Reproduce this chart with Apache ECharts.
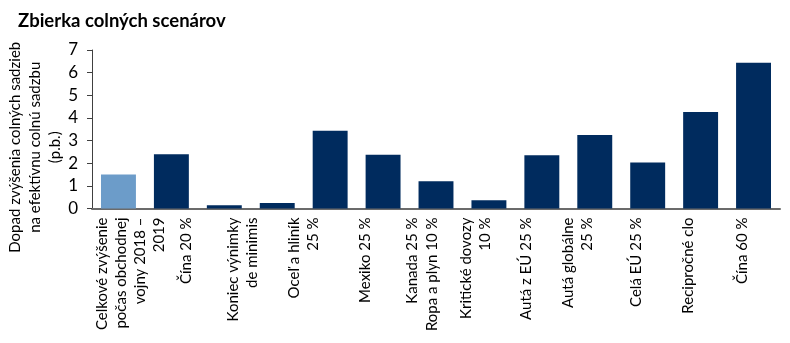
<!DOCTYPE html>
<html>
<head>
<meta charset="utf-8">
<script src="https://cdn.jsdelivr.net/npm/echarts@6/dist/echarts.min.js"></script>
<style>
  html, body { margin: 0; padding: 0; background: #fff; }
  #chart { width: 790px; height: 343px; }
</style>
</head>
<body>
<div id="chart"></div>
<script>
// Tariff scenarios and their impact on the effective tariff rate (p.b.)
const categories = [
  'Celkové zvýšenie\npočas obchodnej\nvojny 2018 –\n2019',
  'Čína 20 %',
  'Koniec výnimky\nde minimis',
  'Oceľ a hliník\n25 %',
  'Mexiko 25 %',
  'Kanada 25 %',
  'Ropa a plyn 10 %',
  'Kritické dovozy\n10 %',
  'Autá z EÚ 25 %',
  'Autá globálne\n25 %',
  'Celá EÚ 25 %',
  'Recipročné clo',
  'Čína 60 %'
];
const impactValues = [1.5, 2.4, 0.14, 0.24, 3.43, 2.37, 1.2, 0.36, 2.35, 3.25, 2.03, 4.26, 6.44];
const yTicks = [0, 1, 2, 3, 4, 5, 6, 7];

// horizontal nudge (px) of each category label relative to its bar
const labelShift = [12, 15, 18, 26, 35, 29, -4, -13, -16, -17, -12, -12, -11];

const FONT = 'Lato, "Open Sans", sans-serif';
const DARK = '#002B5E';
const LIGHT = '#6C9CC9';

// rotated labels: an invisible spacer line before/after the text moves the block sideways
const labelRich = {
  t: { fontFamily: FONT, fontSize: 15, lineHeight: 19, color: '#000' }
};
labelShift.forEach((d, i) => {
  const h = Math.max(1, Math.abs(2 * d));
  labelRich['gap' + i] = { fontSize: 1, height: h, lineHeight: h, color: 'rgba(0,0,0,0)' };
});
function categoryLabel(value, index) {
  const d = labelShift[index];
  const lines = String(value).split('\n').map(l => '{t|' + l + '}').join('\n');
  if (d > 0) return '{gap' + index + '| }\n' + lines;
  if (d < 0) return lines + '\n{gap' + index + '| }';
  return lines;
}

const chart = echarts.init(document.getElementById('chart'), null, { renderer: 'canvas' });
chart.setOption({
  animation: false,
  backgroundColor: '#fff',
  title: {
    text: 'Zbierka colných scenárov',
    left: 13, top: 7,
    textStyle: { fontFamily: FONT, fontSize: 18.5, fontWeight: 'bold', color: '#000' }
  },
  grid: { left: 92, right: 10, top: 50, bottom: 134.5, containLabel: false, outerBoundsMode: 'none' },
  xAxis: {
    type: 'category',
    data: categories,
    axisLine: { show: true, lineStyle: { color: '#6b6b6b', width: 2 } },
    axisTick: { show: false },
    axisLabel: {
      interval: 0,
      rotate: 90,
      margin: 9,
      align: 'right',
      verticalAlign: 'middle',
      fontFamily: FONT,
      fontSize: 15,
      lineHeight: 19,
      color: '#000',
      hideOverlap: false,
      formatter: categoryLabel,
      rich: labelRich
    },
    splitLine: { show: false }
  },
  yAxis: {
    type: 'value',
    min: yTicks[0],
    max: yTicks[yTicks.length - 1],
    interval: 1,
    name: 'Dopad zvýšenia colných sadzieb\nna efektívnu colnú sadzbu\n(p.b.)',
    nameLocation: 'middle',
    nameGap: 27,
    nameMoveOverlap: false,
    nameTextStyle: {
      fontFamily: FONT, fontSize: 15, lineHeight: 20, color: '#000',
      align: 'center', padding: [0, 36, 0, 0]
    },
    axisLine: { show: true, lineStyle: { color: '#404040', width: 1 } },
    axisTick: { show: true, inside: false, length: 5, lineStyle: { color: '#404040' } },
    axisLabel: { fontFamily: FONT, fontSize: 17, color: '#000', margin: 14 },
    splitLine: { show: false }
  },
  series: [{
    type: 'bar',
    data: impactValues.map((v, i) => ({
      value: v,
      itemStyle: { color: i === 0 ? LIGHT : DARK }
    })),
    barCategoryGap: '34%',
    itemStyle: { borderWidth: 0 }
  }]
});
</script>
</body>
</html>
